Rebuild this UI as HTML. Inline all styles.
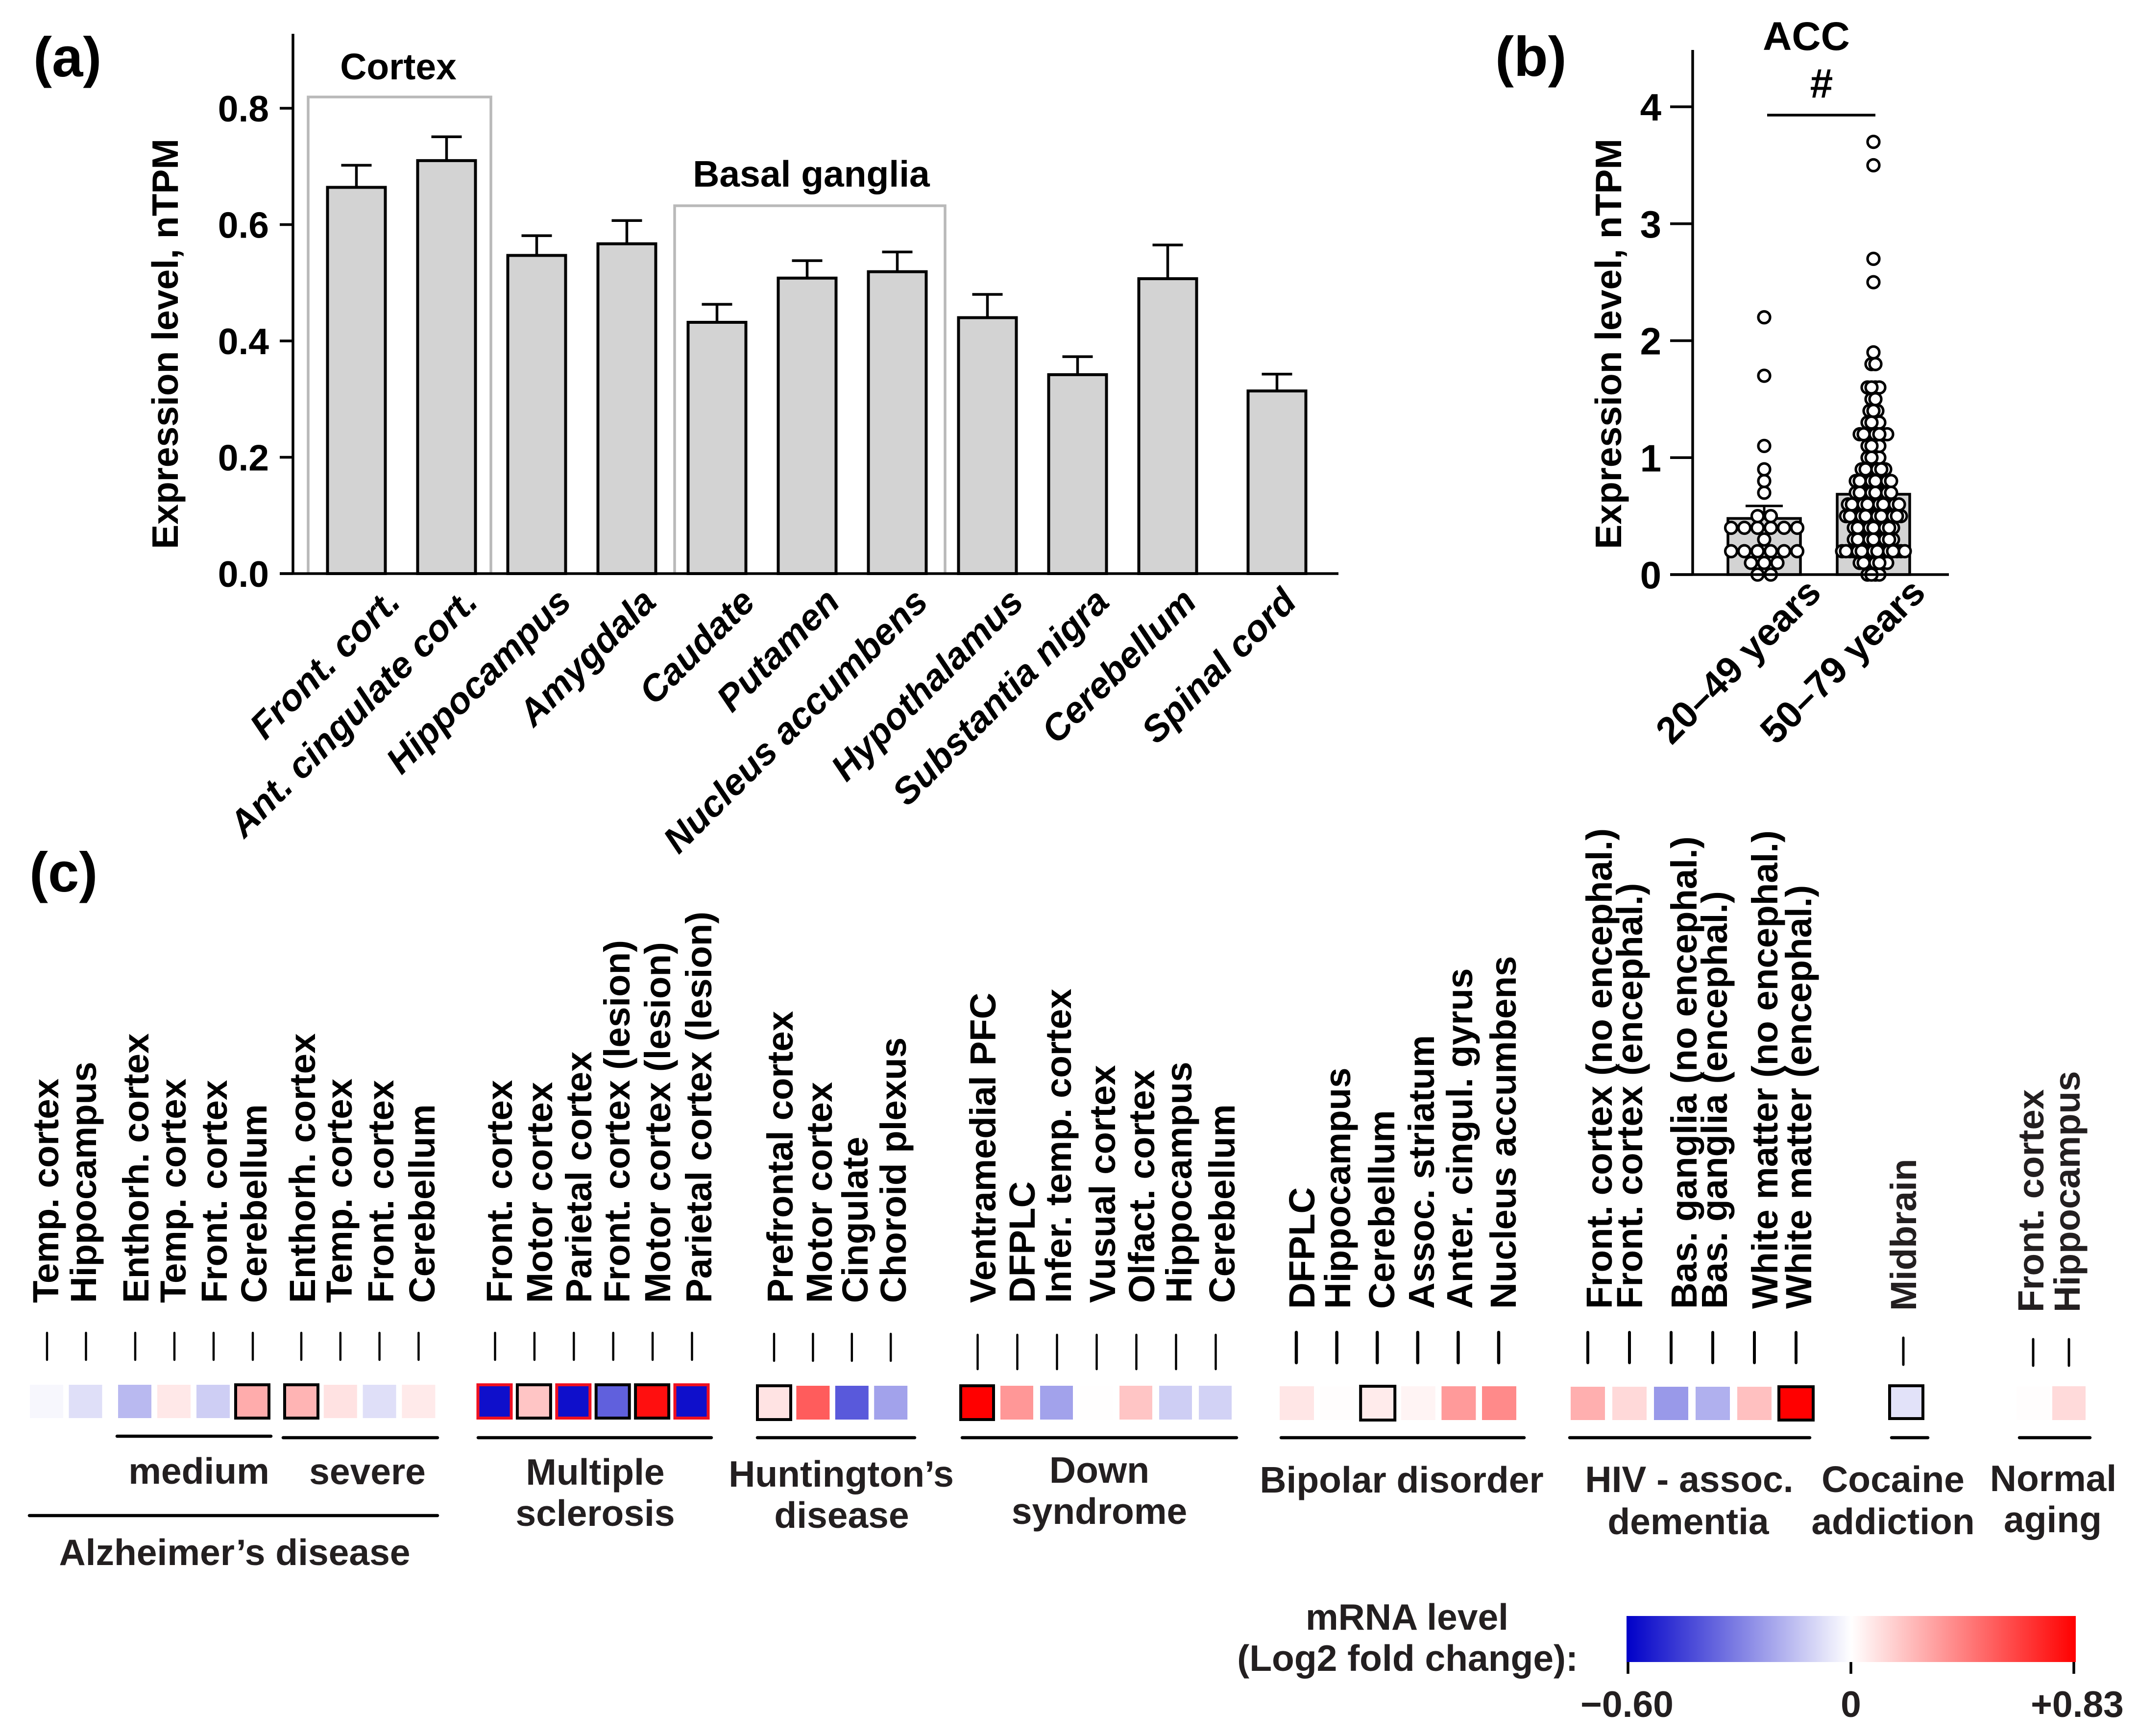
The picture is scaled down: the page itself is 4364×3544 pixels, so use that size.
<!DOCTYPE html>
<html lang="en">
<head>
<meta charset="utf-8">
<title>Expression level and mRNA fold change</title>
<style>
html,body{margin:0;padding:0;background:#fff;}
svg{display:block;font-family:"Liberation Sans",Arial,sans-serif;font-weight:bold;}
.t{font-size:75px;fill:#000;}
.p{font-size:114px;fill:#000;}
.i{font-size:75px;font-style:italic;fill:#000;text-anchor:end;}
.r{font-size:77px;fill:#000;text-anchor:end;}
.v{font-size:74.5px;fill:#000;}
.g{font-size:75px;fill:#231f20;text-anchor:middle;}
.l{stroke:#000;stroke-width:6.5;stroke-linecap:round;fill:none;}
.a{stroke:#000;stroke-width:5.5;fill:none;}
.b{stroke:#b9b9b9;stroke-width:5.5;fill:none;}
</style>
</head>
<body>
<svg xmlns="http://www.w3.org/2000/svg" width="4364" height="3544" viewBox="0 0 4364 3544">
<defs>
<linearGradient id="cbar" x1="0" x2="1" y1="0" y2="0">
<stop offset="0" stop-color="#0000c8"/>
<stop offset="0.5" stop-color="#ffffff"/>
<stop offset="1" stop-color="#ff0000"/>
</linearGradient>
</defs>
<rect x="0" y="0" width="4364" height="3544" fill="#fff"/>

<!-- Panel a -->
<text class="p" x="68" y="156">(a)</text>
<g id="panelA">
<path class="b" d="M629 1171V198H1002V1171"/>
<path class="b" d="M1377 1171V420H1929V1171"/>
<text class="t" x="813" y="162" text-anchor="middle">Cortex</text>
<text class="t" x="1656" y="381" text-anchor="middle">Basal ganglia</text>
<g id="aBars"></g>
<path class="a" d="M598 69V1173"/>
<path class="a" d="M571 1171H2732"/>
<g id="aTicks"></g>
<text class="t" transform="translate(363 702) rotate(-90)" text-anchor="middle">Expression level, nTPM</text>
<g>
<text class="i" transform="translate(821 1233) rotate(-45)">Front. cort.</text>
<text class="i" transform="translate(979 1233) rotate(-45)">Ant. cingulate cort.</text>
<text class="i" transform="translate(1170 1233) rotate(-45)">Hippocampus</text>
<text class="i" transform="translate(1343 1233) rotate(-45)">Amygdala</text>
<text class="i" transform="translate(1545 1233) rotate(-45)">Caudate</text>
<text class="i" transform="translate(1718 1233) rotate(-45)">Putamen</text>
<text class="i" transform="translate(1898 1233) rotate(-45)">Nucleus accumbens</text>
<text class="i" transform="translate(2093 1233) rotate(-45)">Hypothalamus</text>
<text class="i" transform="translate(2268 1233) rotate(-45)">Substantia nigra</text>
<text class="i" transform="translate(2446 1233) rotate(-45)">Cerebellum</text>
<text class="i" transform="translate(2650 1233) rotate(-45)">Spinal cord</text>
</g>
</g>

<!-- Panel b -->
<text class="p" x="3052" y="155">(b)</text>
<g id="panelB">
<text x="3687" y="102" font-size="82" text-anchor="middle">ACC</text>
<text x="3718" y="199" font-size="84" text-anchor="middle">#</text>
<path class="a" d="M3607 235H3828"/>
<g id="bBars"></g>
<g id="bPoints"></g>
<path class="a" d="M3455 102V1175"/>
<path class="a" d="M3409 1173H3978"/>
<g id="bTicks"></g>
<text class="t" transform="translate(3309 702) rotate(-90)" text-anchor="middle">Expression level, nTPM</text>
<text class="r" transform="translate(3721 1214) rotate(-45)">20–49 years</text>
<text class="r" transform="translate(3934 1214) rotate(-45)">50–79 years</text>
</g>

<!-- Panel c -->
<text class="p" x="60" y="1820">(c)</text>
<g id="panelC">
<g>
<text class="v" transform="translate(119 2660) rotate(-90)">Temp. cortex</text>
<text class="v" transform="translate(196 2660) rotate(-90)">Hippocampus</text>
<text class="v" transform="translate(303 2660) rotate(-90)">Enthorh. cortex</text>
<text class="v" transform="translate(379 2660) rotate(-90)">Temp. cortex</text>
<text class="v" transform="translate(463 2660) rotate(-90)">Front. cortex</text>
<text class="v" transform="translate(544 2660) rotate(-90)">Cerebellum</text>
<text class="v" transform="translate(643 2660) rotate(-90)">Enthorh. cortex</text>
<text class="v" transform="translate(718 2660) rotate(-90)">Temp. cortex</text>
<text class="v" transform="translate(803 2660) rotate(-90)">Front. cortex</text>
<text class="v" transform="translate(887 2660) rotate(-90)">Cerebellum</text>
<text class="v" transform="translate(1045 2660) rotate(-90)">Front. cortex</text>
<text class="v" transform="translate(1127 2660) rotate(-90)">Motor cortex</text>
<text class="v" transform="translate(1207 2660) rotate(-90)">Parietal cortex</text>
<text class="v" transform="translate(1285 2660) rotate(-90)">Front. cortex (lesion)</text>
<text class="v" transform="translate(1368 2660) rotate(-90)">Motor cortex (lesion)</text>
<text class="v" transform="translate(1452 2660) rotate(-90)">Parietal cortex (lesion)</text>
<text class="v" transform="translate(1618 2660) rotate(-90)">Prefrontal cortex</text>
<text class="v" transform="translate(1698 2660) rotate(-90)">Motor cortex</text>
<text class="v" transform="translate(1771 2660) rotate(-90)">Cingulate</text>
<text class="v" transform="translate(1849 2660) rotate(-90)">Choroid plexus</text>
<text class="v" transform="translate(2032 2660) rotate(-90)">Ventramedial PFC</text>
<text class="v" transform="translate(2112 2660) rotate(-90)">DFPLC</text>
<text class="v" transform="translate(2186 2660) rotate(-90)">Infer. temp. cortex</text>
<text class="v" transform="translate(2276 2660) rotate(-90)">Vusual cortex</text>
<text class="v" transform="translate(2356 2660) rotate(-90)">Olfact. cortex</text>
<text class="v" transform="translate(2432 2660) rotate(-90)">Hippocampus</text>
<text class="v" transform="translate(2520 2660) rotate(-90)">Cerebellum</text>
<text class="v" transform="translate(2683 2672) rotate(-90)">DFPLC</text>
<text class="v" transform="translate(2756 2672) rotate(-90)">Hippocampus</text>
<text class="v" transform="translate(2846 2672) rotate(-90)">Cerebellum</text>
<text class="v" transform="translate(2927 2672) rotate(-90)">Assoc. striatum</text>
<text class="v" transform="translate(3005 2672) rotate(-90)">Anter. cingul. gyrus</text>
<text class="v" transform="translate(3094 2672) rotate(-90)">Nucleus accumbens</text>
<text class="v" transform="translate(3290 2672) rotate(-90)">Front. cortex (no encephal.)</text>
<text class="v" transform="translate(3352 2672) rotate(-90)">Front. cortex (encephal.)</text>
<text class="v" transform="translate(3463 2672) rotate(-90)">Bas. ganglia (no encephal.)</text>
<text class="v" transform="translate(3525 2672) rotate(-90)">Bas. ganglia (encephal.)</text>
<text class="v" transform="translate(3628 2672) rotate(-90)">White matter (no encephal.)</text>
<text class="v" transform="translate(3697 2672) rotate(-90)">White matter (encephal.)</text>
<text class="v" style="fill:#231f20" transform="translate(3911 2676) rotate(-90)">Midbrain</text>
<text class="v" style="fill:#231f20" transform="translate(4171 2679) rotate(-90)">Front. cortex</text>
<text class="v" style="fill:#231f20" transform="translate(4245 2679) rotate(-90)">Hippocampus</text>
</g>
<g id="cTicks"></g>
<g id="cCells"></g>
<g>
<path class="l" d="M239 2932H553"/>
<path class="l" d="M578 2935H893"/>
<path class="l" d="M60 3094H893"/>
<path class="l" d="M976 2935H1452"/>
<path class="l" d="M1546 2935H1867"/>
<path class="l" d="M1964 2935H2524"/>
<path class="l" d="M2615 2935H3111"/>
<path class="l" d="M3204 2935H3694"/>
<path class="l" d="M3861 2935H3935"/>
<path class="l" d="M4122 2935H4266"/>
</g>
<g>
<text class="g" x="406" y="3029">medium</text>
<text class="g" x="750" y="3030">severe</text>
<text class="g" x="479" y="3195">Alzheimer’s disease</text>
<text class="g" x="1215" y="3031">Multiple</text>
<text class="g" x="1215" y="3115">sclerosis</text>
<text class="g" x="1717" y="3035">Huntington’s</text>
<text class="g" x="1718" y="3119">disease</text>
<text class="g" x="2244" y="3027">Down</text>
<text class="g" x="2244" y="3111">syndrome</text>
<text class="g" x="2861" y="3047">Bipolar disorder</text>
<text class="g" x="3448" y="3046">HIV - assoc.</text>
<text class="g" x="3446" y="3132">dementia</text>
<text class="g" x="3864" y="3046">Cocaine</text>
<text class="g" x="3864" y="3132">addiction</text>
<text class="g" x="4191" y="3044">Normal</text>
<text class="g" x="4190" y="3128">aging</text>
</g>
<g>
<text class="g" x="2872" y="3327">mRNA level</text>
<text class="g" x="3221" y="3411" style="text-anchor:end">(Log2 fold change):</text>
<rect x="3320" y="3299" width="917" height="94" fill="url(#cbar)"/>
<path class="a" d="M3323 3393V3417"/>
<path class="a" d="M3778 3393V3417"/>
<path class="a" d="M4233 3393V3417"/>
<text class="g" x="3321" y="3505">−0.60</text>
<text class="g" x="3778" y="3505">0</text>
<text class="g" x="4240" y="3505">+0.83</text>
</g>
</g>
</svg>
<script>
// ---- Panel (a) data ----
const regions = ["Front. cort.","Ant. cingulate cort.","Hippocampus","Amygdala","Caudate","Putamen","Nucleus accumbens","Hypothalamus","Substantia nigra","Cerebellum","Spinal cord"];
const regionMeans = [0.664,0.710,0.547,0.567,0.432,0.508,0.519,0.440,0.342,0.507,0.314];
const regionUpper = [0.702,0.751,0.581,0.607,0.463,0.538,0.553,0.480,0.373,0.565,0.343];
const aTickValues = [0,0.2,0.4,0.6,0.8];
const aTickLabels = ["0.0","0.2","0.4","0.6","0.8"];

// ---- Panel (b) data ----
const ageGroups = ["20–49 years","50–79 years"];
const ageMeans = [0.48,0.687];
const ageUpper = [0.587,0.75];
const bTickValues = [0,1,2,3,4];
const bTickLabels = ["0","1","2","3","4"];
const youngValues = [0,0,0.1,0.1,0.1,0.2,0.2,0.2,0.2,0.2,0.2,0.3,0.4,0.4,0.4,0.4,0.4,0.4,0.5,0.5,0.7,0.8,0.9,1.1,1.7,2.2];
const olderValues = [
0,0,0,0,
0.1,0.1,0.1,0.1,0.1,0.1,0.1,0.1,
0.2,0.2,0.2,0.2,0.2,0.2,0.2,0.2,0.2,0.2,0.2,0.2,0.2,0.2,0.2,0.2,0.2,
0.3,0.3,0.3,0.3,0.3,0.3,0.3,0.3,0.3,0.3,0.3,
0.4,0.4,0.4,0.4,0.4,0.4,0.4,0.4,0.4,0.4,0.4,
0.5,0.5,0.5,0.5,0.5,0.5,0.5,0.5,0.5,0.5,0.5,0.5,0.5,0.5,0.5,
0.6,0.6,0.6,0.6,0.6,0.6,0.6,0.6,0.6,0.6,0.6,0.6,0.6,0.6,
0.7,0.7,0.7,0.7,0.7,0.7,0.7,0.7,0.7,0.7,
0.8,0.8,0.8,0.8,0.8,0.8,0.8,0.8,0.8,0.8,
0.9,0.9,0.9,0.9,0.9,0.9,0.9,
1.0,1.0,1.0,1.0,
1.1,1.1,1.1,1.1,
1.2,1.2,1.2,1.2,1.2,1.2,1.2,1.2,
1.3,1.3,1.3,1.3,
1.4,1.4,1.4,
1.5,1.5,
1.6,1.6,1.6,1.6,
1.8,1.8,
1.9,2.5,2.7,3.5,3.7];

// ---- Panel (c) data: log2 fold change per cell, and significance outline ----
const foldAdEarly = [-0.02,-0.075];
const foldAdMedium = [-0.165,0.075,-0.115,0.27];
const foldAdSevere = [0.245,0.095,-0.075,0.068];
const foldMs = [-0.565,0.19,-0.565,-0.375,0.78,-0.565];
const foldHuntington = [0.09,0.53,-0.39,-0.22];
const foldDown = [0.83,0.34,-0.22,0.003,0.19,-0.115,-0.105];
const foldBipolar = [0.08,0.005,0.065,0.035,0.33,0.38];
const foldHiv = [0.26,0.125,-0.24,-0.185,0.205,0.83];
const foldCocaine = [-0.068];
const foldAging = [0.005,0.12];
const outlineAdEarly = ["",""];
const outlineAdMedium = ["","","","k"];
const outlineAdSevere = ["k","","",""];
const outlineMs = ["r","k","r","k","k","r"];
const outlineHuntington = ["k","","",""];
const outlineDown = ["k","","","","","",""];
const outlineBipolar = ["","","k","","",""];
const outlineHiv = ["","","","","","k"];
const outlineCocaine = ["k"];
const outlineAging = ["",""];

// ---- Axis functions ----
const NS = "http://www.w3.org/2000/svg";
function yA(v){ return 1171 - v*1187.5; }
function xA(i){ return 727.5 + 184*i + (i === 10 ? 39 : 0); }
function yB(v){ return 1173 - v*238.75; }
function xB(i){ return 3601 + 223*i; }
function foldColor(v){
  if (v >= 0) {
    const t = Math.min(1, v/0.83);
    const c = Math.round(255*(1-t));
    return "rgb(255,"+c+","+c+")";
  }
  const t = Math.min(1, -v/0.60);
  const c = Math.round(255*(1-t));
  const b = Math.round(255-55*t);
  return "rgb("+c+","+c+","+b+")";
}
function add(parent, tag, attrs){
  const el = document.createElementNS(NS, tag);
  for (const k in attrs) el.setAttribute(k, attrs[k]);
  parent.appendChild(el);
  return el;
}

// ---- Panel (a) ----
const aBars = document.getElementById("aBars");
regions.forEach(function(name, i){
  const c = xA(i);
  const stem = add(aBars, "path", {d:"M"+c+" "+yA(regionMeans[i])+"V"+yA(regionUpper[i])+"M"+(c-31)+" "+yA(regionUpper[i])+"H"+(c+31), stroke:"#000", "stroke-width":5.5, fill:"none"});
  
  
  const bar = add(aBars, "rect", {x:c-59, y:yA(regionMeans[i]), width:118, height:yA(0)-yA(regionMeans[i]), fill:"#d3d3d3", stroke:"#000", "stroke-width":6});
  
  
  const tip = add(bar, "title", {});
  tip.textContent = name;
});
const aTicks = document.getElementById("aTicks");
aTickValues.forEach(function(v, i){
  const tick = add(aTicks, "path", {d:"M571 "+yA(v)+"H598", stroke:"#000", "stroke-width":5.5});
  
  
  const label = add(aTicks, "text", {x:549, y:yA(v)+27, "text-anchor":"end", "font-size":75});
  
  
  label.textContent = aTickLabels[i];
});

// ---- Panel (b) ----
const bBars = document.getElementById("bBars");
ageGroups.forEach(function(name, i){
  const c = xB(i);
  const stem = add(bBars, "path", {d:"M"+c+" "+yB(ageMeans[i])+"V"+yB(ageUpper[i])+"M"+(c-38)+" "+yB(ageUpper[i])+"H"+(c+38), stroke:"#000", "stroke-width":5, fill:"none"});
  
  
  const bar = add(bBars, "rect", {x:c-74, y:yB(ageMeans[i]), width:148, height:yB(0)-yB(ageMeans[i]), fill:"#d3d3d3", stroke:"#000", "stroke-width":5.5});
  
  
  const tip = add(bar, "title", {});
  tip.textContent = name;
});
function drawSwarm(values, groupIndex, spacing, topEvery){
  const layer = document.getElementById("bPoints");
  const counts = {};
  values.forEach(function(v){ counts[v] = (counts[v] || 0) + 1; });
  const seen = {};
  const items = values.map(function(v){
    const k = seen[v] = (seen[v] === undefined ? 0 : seen[v] + 1);
    return {v:v, k:k, dx:(k-(counts[v]-1)/2)*spacing};
  });
  // every few points of a crowded row are painted last, so they stay fully visible
  items.sort(function(a,b){
    return ((a.k%topEvery===1)?1:0) - ((b.k%topEvery===1)?1:0);
  });
  items.forEach(function(p){
    const dot = add(layer, "circle", {cx:xB(groupIndex)+p.dx, cy:yB(p.v), r:12, fill:"#fff", stroke:"#000", "stroke-width":5.2});
    
    
  });
}
drawSwarm(youngValues, 0, 27, 1);
drawSwarm(olderValues, 1, 8, 4);
const bTicks = document.getElementById("bTicks");
bTickValues.forEach(function(v, i){
  const tick = add(bTicks, "path", {d:"M3409 "+yB(v)+"H3455", stroke:"#000", "stroke-width":5.5});
  
  
  const label = add(bTicks, "text", {x:3391, y:yB(v)+28, "text-anchor":"end", "font-size":78});
  
  
  label.textContent = bTickLabels[i];
});

// ---- Panel (c) ----
const cGroups = [
  {fold:foldAdEarly, outline:outlineAdEarly, start:95, pitch:79.5, w:68, top:2827, h:68, t0:2721, t1:2776, sw:4.5, dx:1},
  {fold:foldAdMedium, outline:outlineAdMedium, start:275, pitch:80, w:68, top:2827, h:68, t0:2721, t1:2776, sw:4.5, dx:1},
  {fold:foldAdSevere, outline:outlineAdSevere, start:615, pitch:79.8, w:68, top:2827, h:68, t0:2721, t1:2776, sw:4.5, dx:0},
  {fold:foldMs, outline:outlineMs, start:1009.5, pitch:80.4, w:68, top:2827, h:68, t0:2721, t1:2776, sw:4.5, dx:1},
  {fold:foldHuntington, outline:outlineHuntington, start:1580, pitch:79.4, w:68, top:2829, h:69, t0:2723, t1:2778, sw:4.5, dx:0},
  {fold:foldDown, outline:outlineDown, start:1994.5, pitch:81, w:67, top:2829, h:69, t0:2725, t1:2795, sw:4.5, dx:1},
  {fold:foldBipolar, outline:outlineBipolar, start:2647, pitch:82.6, w:70, top:2830, h:69, t0:2720, t1:2782, sw:6.5, dx:-1},
  {fold:foldHiv, outline:outlineHiv, start:3241, pitch:85, w:70, top:2831, h:68, t0:2720, t1:2782, sw:6, dx:0},
  {fold:foldCocaine, outline:outlineCocaine, start:3891, pitch:0, w:68, top:2829, h:67, t0:2731, t1:2786, sw:5, dx:-6},
  {fold:foldAging, outline:outlineAging, start:4150, pitch:73, w:68, top:2830, h:69, t0:2734, t1:2788, sw:5, dx:0}
];
const cTicks = document.getElementById("cTicks");
const cCells = document.getElementById("cCells");
cGroups.forEach(function(g){
  g.fold.forEach(function(v, i){
    const c = g.start + g.pitch*i;
    const tick = add(cTicks, "path", {d:"M"+(c+g.dx)+" "+g.t0+"V"+g.t1, stroke:"#000", "stroke-width":g.sw, "stroke-linecap":"round"});
    
    
    const attrs = {x:c-g.w/2, y:g.top, width:g.w, height:g.h, fill:foldColor(v)};
    if (g.outline[i]) {
      attrs.stroke = g.outline[i] === "r" ? "#f01020" : "#000";
      attrs["stroke-width"] = 6;
    }
    const cell = add(cCells, "rect", attrs);
    
    
  });
});
</script>
</body>
</html>
